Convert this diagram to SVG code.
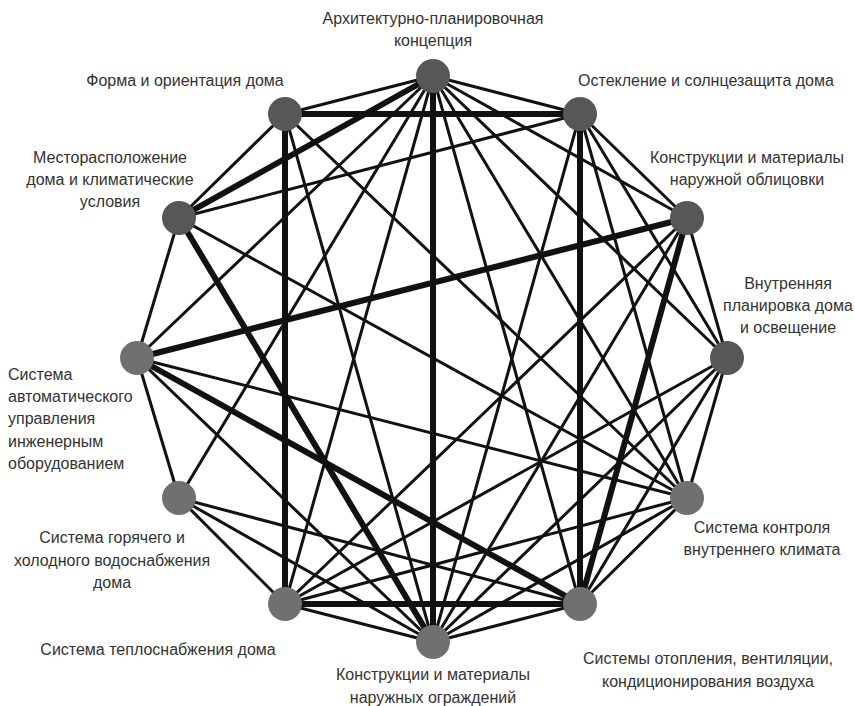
<svg xmlns="http://www.w3.org/2000/svg" width="855" height="706" viewBox="0 0 855 706">
<style>
.e{stroke:#111;stroke-width:3;fill:none}
.t{stroke:#111;stroke-width:6;fill:none}
.nd{fill:#575757}
.nl{fill:#707070}
text{font-family:"Liberation Sans",Arial,sans-serif;font-size:16px;fill:#333;text-anchor:middle}
</style>
<rect width="855" height="706" fill="#fff"/>
<g id="connectors">
<!-- ring -->
<line class="e" x1="433" y1="76" x2="580" y2="114"/>
<line class="e" x1="580" y1="114" x2="687" y2="218"/>
<line class="e" x1="687" y1="218" x2="727" y2="358"/>
<line class="e" x1="727" y1="358" x2="687" y2="498"/>
<line class="e" x1="687" y1="498" x2="580" y2="604"/>
<line class="e" x1="580" y1="604" x2="433" y2="642"/>
<line class="e" x1="433" y1="642" x2="285" y2="604"/>
<line class="e" x1="285" y1="604" x2="179" y2="498"/>
<line class="e" x1="179" y1="498" x2="137" y2="358"/>
<line class="e" x1="137" y1="358" x2="179" y2="218"/>
<line class="e" x1="179" y1="218" x2="285" y2="114"/>
<line class="e" x1="285" y1="114" x2="433" y2="76"/>
<!-- A -->
<line class="e" x1="433" y1="76" x2="137" y2="358"/>
<line class="e" x1="433" y1="76" x2="179" y2="498"/>
<line class="e" x1="433" y1="76" x2="285" y2="604"/>
<line class="e" x1="433" y1="76" x2="580" y2="604"/>
<line class="e" x1="433" y1="76" x2="687" y2="498"/>
<line class="e" x1="433" y1="76" x2="727" y2="358"/>
<line class="e" x1="433" y1="76" x2="687" y2="218"/>
<!-- K -->
<line class="e" x1="179" y1="218" x2="580" y2="114"/>
<line class="e" x1="179" y1="218" x2="687" y2="498"/>
<!-- J -->
<line class="e" x1="137" y1="358" x2="687" y2="498"/>
<line class="e" x1="137" y1="358" x2="433" y2="642"/>
<!-- L -->
<line class="e" x1="285" y1="114" x2="433" y2="642"/>
<line class="e" x1="285" y1="114" x2="687" y2="498"/>
<!-- B -->
<line class="e" x1="580" y1="114" x2="687" y2="498"/>
<line class="e" x1="580" y1="114" x2="727" y2="358"/>
<line class="e" x1="580" y1="114" x2="433" y2="642"/>
<!-- C -->
<line class="e" x1="687" y1="218" x2="285" y2="604"/>
<line class="e" x1="687" y1="218" x2="433" y2="642"/>
<!-- D -->
<line class="e" x1="727" y1="358" x2="285" y2="604"/>
<line class="e" x1="727" y1="358" x2="433" y2="642"/>
<line class="e" x1="727" y1="358" x2="580" y2="604"/>
<!-- E -->
<line class="e" x1="687" y1="498" x2="433" y2="642"/>
<line class="e" x1="687" y1="498" x2="285" y2="604"/>
<!-- I -->
<line class="e" x1="179" y1="498" x2="580" y2="604"/>
<line class="e" x1="179" y1="498" x2="433" y2="642"/>
<!-- thick -->
<line class="t" x1="285" y1="114" x2="580" y2="114"/>
<line class="t" x1="285" y1="114" x2="285" y2="604"/>
<line class="t" x1="580" y1="114" x2="580" y2="604"/>
<line class="t" x1="285" y1="604" x2="580" y2="604"/>
<line class="t" x1="433" y1="76" x2="433" y2="642"/>
<line class="t" x1="433" y1="76" x2="179" y2="218"/>
<line class="t" x1="179" y1="218" x2="433" y2="642"/>
<line class="t" x1="137" y1="358" x2="687" y2="218"/>
<line class="t" x1="137" y1="358" x2="580" y2="604"/>
<line class="t" x1="687" y1="218" x2="580" y2="604"/>
</g>
<g id="nA"><circle class="nd" cx="433" cy="76" r="17"/><text x="433" y="24">Архитектурно-планировочная</text><text x="433" y="46">концепция</text></g>
<g id="nB"><circle class="nd" cx="580" cy="114" r="17"/><text x="706" y="86">Остекление и солнцезащита дома</text></g>
<g id="nC"><circle class="nd" cx="687" cy="218" r="17"/><text x="747" y="163">Конструкции и материалы</text><text x="747" y="185">наружной облицовки</text></g>
<g id="nD"><circle class="nd" cx="727" cy="358" r="17"/><text x="788" y="289">Внутренняя</text><text x="788" y="311">планировка дома</text><text x="788" y="333">и освещение</text></g>
<g id="nE"><circle class="nl" cx="687" cy="498" r="17"/><text x="762" y="533">Система контроля</text><text x="762" y="555">внутреннего климата</text></g>
<g id="nF"><circle class="nl" cx="580" cy="604" r="17"/><text x="708" y="664">Системы отопления, вентиляции,</text><text x="708" y="687">кондиционирования воздуха</text></g>
<g id="nG"><circle class="nl" cx="433" cy="642" r="17"/><text x="433" y="680">Конструкции и материалы</text><text x="433" y="703">наружных ограждений</text></g>
<g id="nH"><circle class="nl" cx="285" cy="604" r="17"/><text x="158" y="655">Система теплоснабжения дома</text></g>
<g id="nI"><circle class="nl" cx="179" cy="498" r="17"/><text x="112" y="543">Система горячего и</text><text x="112" y="566">холодного водоснабжения</text><text x="112" y="588">дома</text></g>
<g id="nJ"><circle class="nl" cx="137" cy="358" r="17"/><g style="text-anchor:start"><text x="8" y="380" style="text-anchor:start">Система</text><text x="8" y="402" style="text-anchor:start">автоматического</text><text x="8" y="424" style="text-anchor:start">управления</text><text x="8" y="447" style="text-anchor:start">инженерным</text><text x="8" y="469" style="text-anchor:start">оборудованием</text></g></g>
<g id="nK"><circle class="nd" cx="179" cy="218" r="17"/><text x="110" y="163">Месторасположение</text><text x="110" y="185">дома и климатические</text><text x="110" y="207">условия</text></g>
<g id="nL"><circle class="nd" cx="285" cy="114" r="17"/><text x="185" y="86">Форма и ориентация дома</text></g>
</svg>
